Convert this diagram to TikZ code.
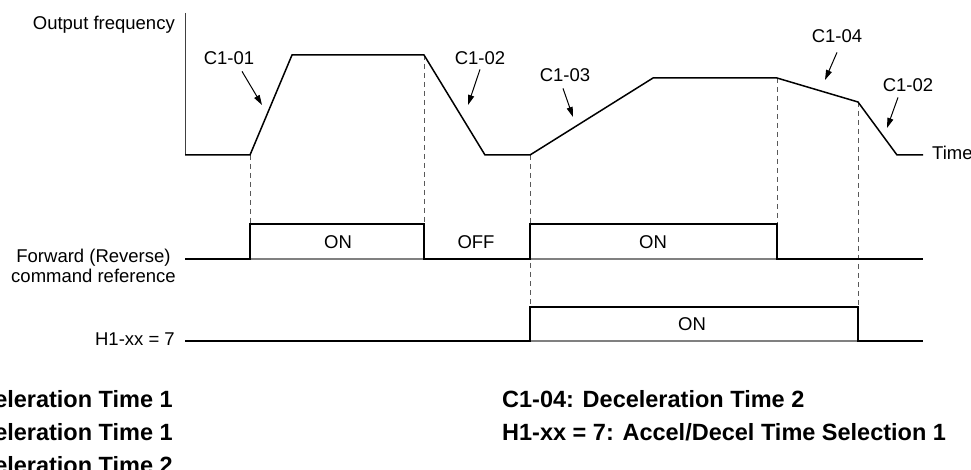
\documentclass[tikz,border=0pt]{standalone}
\usepackage{fontspec}
\setmainfont{Liberation Sans}
\usetikzlibrary{arrows.meta}
\begin{document}
\begin{tikzpicture}[x=1pt,y=-1pt,
  sig/.style={line width=1.5pt, line join=miter},
  axis/.style={line width=1pt, black!75},
  guide/.style={black!65, line width=0.9pt, dash pattern=on 5pt off 4pt},
  lowpart/.style={black!50, line width=1.5pt},
  ptr/.style={line width=1pt, -{Triangle[length=10pt,width=6pt]}},
  lbl/.style={inner sep=0pt, font=\fontsize{18.5}{21}\selectfont},
  note/.style={inner sep=0pt, font=\fontsize{23.5}{26}\selectfont\bfseries}]
\useasboundingbox (0,0) rectangle (971,470);

% ---- frequency trace coordinates
\coordinate (yt) at (185,13);
\coordinate (o)  at (185,155);
\coordinate (p1) at (250,155);
\coordinate (p2) at (292,55);
\coordinate (p3) at (424,55);
\coordinate (p4) at (485,155);
\coordinate (p5) at (530,155);
\coordinate (p6) at (653,78);
\coordinate (p7) at (777,78);
\coordinate (p8) at (858,102);
\coordinate (p9) at (897,155);
\coordinate (pe) at (923,155);

% ---- forward command coordinates
\coordinate (f0) at (185,259);
\coordinate (f1) at (250,259);
\coordinate (f2) at (250,224);
\coordinate (f3) at (424,224);
\coordinate (f4) at (424,259);
\coordinate (f5) at (530,259);
\coordinate (f6) at (530,224);
\coordinate (f7) at (777,224);
\coordinate (f8) at (777,259);
\coordinate (fe) at (923,259);

% ---- H1 coordinates
\coordinate (h0) at (185,341);
\coordinate (h1) at (530,341);
\coordinate (h2) at (530,307);
\coordinate (h3) at (858,307);
\coordinate (h4) at (858,341);
\coordinate (he) at (923,341);

% ---- guides
\draw[guide] (p1) -- (f2);
\draw[guide] (p3) -- (f3);
\draw[guide] (p5) -- (h2);
\draw[guide] (p7) -- (f7);
\draw[guide] (p8) -- (h3);

% ---- axis and traces
\draw[axis] (yt) -- (o);
\draw[sig] (o) -- (p1) -- (p2) -- (p3) -- (p4) -- (p5) -- (p6) -- (p7) -- (p8) -- (p9) -- (pe);

\draw[lowpart] (f1) -- (f4);
\draw[lowpart] (f5) -- (f8);
\draw[sig] (f0) -- (f1) -- (f2) -- (f3) -- (f4) -- (f5) -- (f6) -- (f7) -- (f8) -- (fe);

\draw[lowpart] (h1) -- (h4);
\draw[sig] (h0) -- (h1) -- (h2) -- (h3) -- (h4) -- (he);

% ---- texts
\node[lbl, anchor=base east] (ylab) at (175,30) {Output frequency};
\node[lbl, anchor=base west] (tlab) at (932,160) {Time};
\node[lbl, anchor=base] (fw1) at (93.5,262) {Forward (Reverse)};
\node[lbl, anchor=base] (fw2) at (93.5,283) {command reference};
\node[lbl, anchor=base east] (hlab) at (175,345) {H1-xx = 7};

\node[lbl, anchor=base] (on1) at (338,248) {ON};
\node[lbl, anchor=base] (off1) at (476,248) {OFF};
\node[lbl, anchor=base] (on2) at (653,248) {ON};
\node[lbl, anchor=base] (on3) at (692,330) {ON};

% ---- parameter labels and pointers
\node[lbl, anchor=base] (c1) at (229,65) {C1-01};
\node[lbl, anchor=base] (c2) at (480,65) {C1-02};
\node[lbl, anchor=base] (c3) at (565,82) {C1-03};
\node[lbl, anchor=base] (c4) at (837,43) {C1-04};
\node[lbl, anchor=base] (c5) at (908,92) {C1-02};

\coordinate (t1) at (262,105);
\coordinate (t2) at (468,105);
\coordinate (t3) at (573,117);
\coordinate (t4) at (825,80);
\coordinate (t5) at (887,128);

\draw[ptr] ([xshift=13pt,yshift=-6pt]c1.south) -- (t1);
\draw[ptr] ([xshift=0pt,yshift=-4pt]c2.south) -- (t2);
\draw[ptr] ([xshift=-2pt,yshift=-6pt]c3.south) -- (t3);
\draw[ptr] ([xshift=0pt,yshift=-9pt]c4.south) -- (t4);
\draw[ptr] ([xshift=-10pt,yshift=-5pt]c5.south) -- (t5);

% ---- legend
\node[note, anchor=base east] (n1) at (173,407) {C1-01: Acceleration Time 1};
\node[note, anchor=base east] (n2) at (173,440) {C1-02: Deceleration Time 1};
\node[note, anchor=base east] (n3) at (173,473) {C1-03: Acceleration Time 2};
\node[note, anchor=base west] (n4) at (502,407) {C1-04: Deceleration Time 2};
\node[note, anchor=base west] (n5) at (502,440) {H1-xx = 7: Accel/Decel Time Selection 1};
\end{tikzpicture}
\end{document}
